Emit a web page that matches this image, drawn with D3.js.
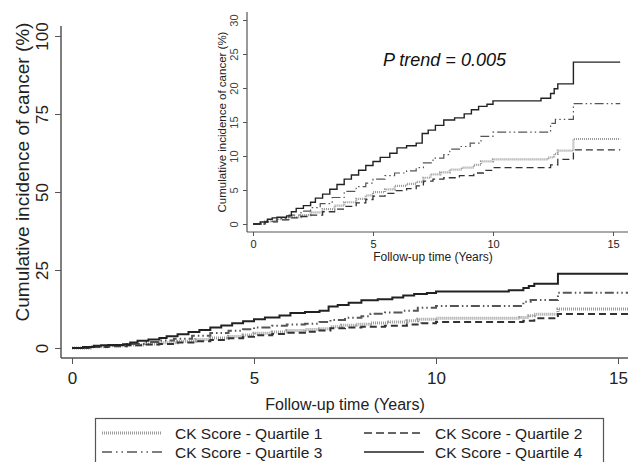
<!DOCTYPE html>
<html>
<head>
<meta charset="utf-8">
<script src="https://cdn.jsdelivr.net/npm/d3@7"></script>
<style>
  body { margin: 0; background: #fff; }
  svg { display: block; font-family: "Liberation Sans", Arial, sans-serif; }
</style>
</head>
<body>
<div id="chart"></div>
<script>
// step data (years, cumulative %)
var q1Time = [0, 0.5, 1.0, 1.5, 2.0, 2.4, 2.9, 3.4, 3.8, 4.3, 4.7, 5.0, 5.5, 5.9, 6.4, 6.8, 7.1, 7.4, 7.8, 8.2, 8.7, 9.2, 9.5, 10.0, 12.3, 12.55, 12.7, 13.35, 15.3];
var q1Val  = [0, 0.4, 0.7, 1.0, 1.3, 1.7, 2.2, 2.7, 3.2, 3.7, 4.2, 4.7, 5.1, 5.6, 5.9, 6.2, 6.8, 7.3, 7.6, 8.0, 8.3, 8.7, 9.2, 9.5, 9.8, 10.3, 10.8, 12.5, 12.5];
var q2Time = [0, 0.5, 1.0, 1.5, 2.0, 2.4, 2.9, 3.4, 3.8, 4.3, 4.7, 5.0, 5.5, 5.9, 6.4, 6.8, 7.1, 7.5, 7.95, 8.6, 9.2, 9.6, 10.0, 12.4, 12.7, 13.35, 15.3];
var q2Val  = [0, 0.3, 0.6, 0.9, 1.1, 1.3, 1.8, 2.2, 2.6, 3.1, 3.6, 4.1, 4.5, 4.9, 5.2, 5.6, 6.3, 6.6, 6.8, 7.1, 7.5, 7.9, 8.3, 8.7, 9.5, 10.9, 10.9];
var q3Time = [0, 0.5, 1.0, 1.5, 2.0, 2.4, 2.8, 3.3, 3.8, 4.3, 4.7, 5.0, 5.5, 5.9, 6.4, 6.8, 7.1, 7.5, 7.95, 8.2, 8.6, 9.05, 9.5, 10.0, 12.4, 12.6, 13.35, 15.3];
var q3Val  = [0, 0.4, 0.8, 1.3, 1.9, 2.4, 3.0, 3.9, 4.8, 5.5, 6.0, 6.6, 7.1, 7.5, 7.8, 8.3, 9.0, 9.7, 10.2, 11.0, 11.4, 11.9, 12.9, 13.5, 14.8, 15.4, 17.7, 17.7];
var q4Time = [0, 0.3, 0.6, 0.8, 1.0, 1.4, 1.6, 1.8, 2.1, 2.4, 2.6, 2.9, 3.2, 3.5, 3.8, 4.1, 4.4, 4.7, 5.0, 5.3, 5.7, 6.0, 6.4, 6.8, 7.05, 7.3, 7.6, 7.95, 8.4, 8.8, 9.1, 9.4, 9.75, 10.0, 12.0, 12.4, 12.55, 12.7, 13.35, 15.3];
var q4Val  = [0, 0.3, 0.7, 0.9, 1.0, 1.2, 1.8, 2.3, 2.7, 3.2, 3.8, 4.4, 5.1, 5.8, 6.6, 7.2, 7.9, 8.6, 9.2, 9.8, 10.4, 11.2, 11.5, 11.9, 13.3, 13.8, 14.5, 15.3, 15.6, 16.2, 16.8, 17.3, 17.6, 18.1, 18.5, 19.2, 19.9, 20.6, 23.8, 23.8];

var seriesNames = ["CK Score - Quartile 1", "CK Score - Quartile 2", "CK Score - Quartile 3", "CK Score - Quartile 4"];
var xTicks = [0, 5, 10, 15];
var mainYTicks = [0, 25, 50, 75, 100];
var insetYTicks = [0, 5, 10, 15, 20, 25, 30];

var styles = [
    { stroke: "#9a9a9a", dash: "1,1", w: 3, wi: 2.2 },
    { stroke: "#333", dash: "7,4", w: 2, wi: 1.3 },
    { stroke: "#555", dash: "9,3,1.5,3,1.5,3", w: 2, wi: 1.2 },
    { stroke: "#222", dash: null, w: 2, wi: 1.4 }
];

var series = [
    { times: q1Time, vals: q1Val },
    { times: q2Time, vals: q2Val },
    { times: q3Time, vals: q3Val },
    { times: q4Time, vals: q4Val }
];

var svg = d3.select("#chart").append("svg")
    .attr("width", 628)
    .attr("height", 462);

function drawPanel(o) {
    var x = d3.scaleLinear().domain([0, 15]).range([o.x0, o.x1]);
    var y = d3.scaleLinear().domain([0, o.ymax]).range([o.y0, o.y1]);
    var g = svg.append("g");

    // axis lines
    g.append("line")
        .attr("x1", o.axX).attr("x2", o.axX)
        .attr("y1", o.axTop).attr("y2", o.axY)
        .style("stroke", "#555").style("stroke-width", o.axW);
    g.append("line")
        .attr("x1", o.axX).attr("x2", 628)
        .attr("y1", o.axY).attr("y2", o.axY)
        .style("stroke", "#555").style("stroke-width", o.axW);

    var xAxis = g.append("g")
        .attr("transform", "translate(0," + o.axY + ")")
        .call(d3.axisBottom(x).tickValues(xTicks).tickSize(o.tick).tickPadding(o.xPad));
    xAxis.select(".domain").remove();
    xAxis.selectAll("line").style("stroke", "#555");
    xAxis.selectAll("text")
        .style("font-size", o.tickFont + "px")
        .style("font-family", "Liberation Sans, Arial, sans-serif")
        .style("fill", "#222");

    var yAxis = g.append("g")
        .attr("transform", "translate(" + o.axX + ",0)")
        .call(d3.axisLeft(y).tickValues(o.yTicks).tickSize(o.tick));
    yAxis.select(".domain").remove();
    yAxis.selectAll("line").style("stroke", "#555");
    yAxis.selectAll("text")
        .attr("x", 0).attr("dy", 0)
        .attr("transform", "translate(" + o.yLabX + ",0) rotate(-90)")
        .attr("text-anchor", "middle")
        .style("font-size", o.tickFont + "px")
        .style("font-family", "Liberation Sans, Arial, sans-serif")
        .style("fill", o.yLabFill);

    g.append("text")
        .attr("transform", "translate(" + o.yTitleX + "," + o.yTitleY + ") rotate(-90)")
        .attr("text-anchor", "middle")
        .style("font-size", o.yTitleFont + "px")
        .style("fill", "#222")
        .text("Cumulative incidence of cancer (%)");

    g.append("text")
        .attr("x", o.xTitleX)
        .attr("y", o.xTitleY)
        .attr("text-anchor", "middle")
        .style("font-size", o.xTitleFont + "px")
        .style("fill", "#222")
        .text("Follow-up time (Years)");

    series.forEach(function(s, i) {
        var pts = s.times.map(function(t, j) { return [t, s.vals[j]]; });
        var line = d3.line()
            .x(function(d) { return x(d[0]); })
            .y(function(d) { return y(d[1]); })
            .curve(d3.curveStepAfter);
        g.append("path")
            .datum(pts)
            .attr("d", line)
            .attr("fill", "none")
            .attr("stroke", styles[i].stroke)
            .attr("stroke-width", o.big ? styles[i].w : styles[i].wi)
            .attr("stroke-dasharray", styles[i].dash);
    });
    return g;
}

// main panel
drawPanel({
    x0: 72, x1: 618, y0: 348, y1: 36, ymax: 100,
    axX: 61, axY: 358, axTop: 26, axW: 1.5, tick: 6, xPad: 8,
    tickFont: 17, yTicks: mainYTicks, yLabX: -13, yLabFill: "#222",
    yTitleX: 29, yTitleY: 172, yTitleFont: 19,
    xTitleX: 345, xTitleY: 410, xTitleFont: 16, big: true
});

// inset panel
drawPanel({
    x0: 253, x1: 613, y0: 224, y1: 20, ymax: 30,
    axX: 247, axY: 232, axTop: 12, axW: 1.2, tick: 4, xPad: 4,
    tickFont: 11, yTicks: insetYTicks, yLabX: -9, yLabFill: "#444",
    yTitleX: 226, yTitleY: 122, yTitleFont: 11.5,
    xTitleX: 433, xTitleY: 261, xTitleFont: 12, big: false
});

svg.append("text")
    .attr("x", 383)
    .attr("y", 66)
    .style("font-size", "18px")
    .style("font-style", "italic")
    .style("fill", "#111")
    .text("P trend = 0.005");

// legend
var legend = svg.append("g");
legend.append("rect")
    .attr("x", 95.5).attr("y", 418.5)
    .attr("width", 508).attr("height", 60)
    .attr("fill", "none")
    .attr("stroke", "#555")
    .attr("stroke-width", 1.2);

var legPos = [[102, 433, 175], [364, 433, 435], [102, 452, 175], [364, 452, 435]];
seriesNames.forEach(function(name, i) {
    var p = legPos[i];
    legend.append("line")
        .attr("x1", p[0]).attr("x2", p[0] + 60)
        .attr("y1", p[1]).attr("y2", p[1])
        .attr("stroke", styles[i].stroke)
        .attr("stroke-width", i === 0 ? 3 : 1.5)
        .attr("stroke-dasharray", i === 0 ? "1,1" : (i === 1 ? "8,4" : (i === 2 ? "10,4,1.5,4,1.5,4" : null)));
    legend.append("text")
        .attr("x", p[2])
        .attr("y", p[1] + 5.5)
        .style("font-size", "15.5px")
        .style("fill", "#222")
        .text(name);
});
</script>
</body>
</html>
